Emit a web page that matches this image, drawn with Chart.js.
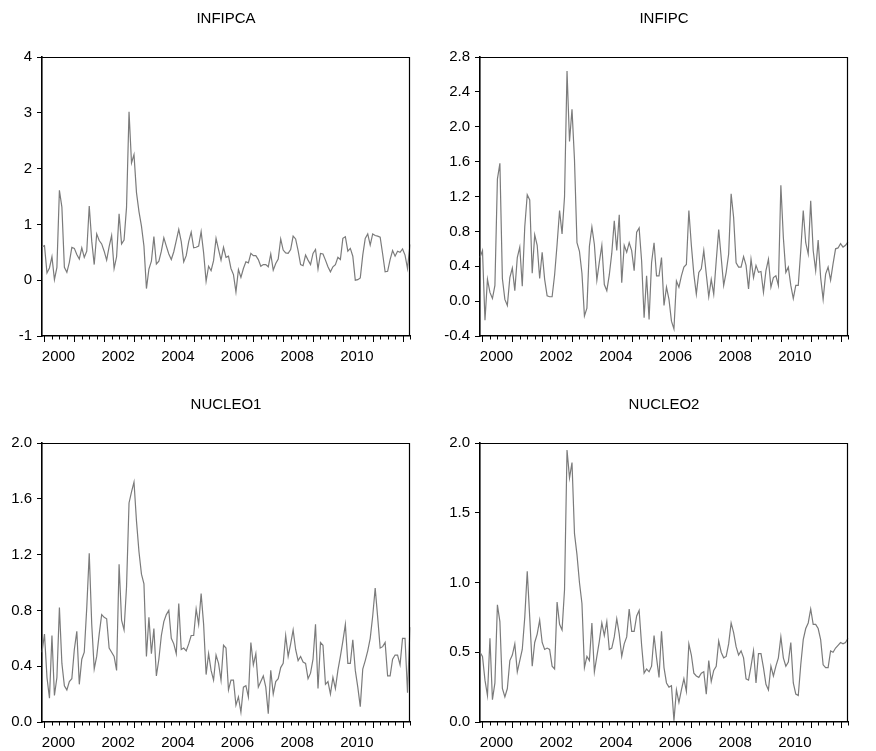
<!DOCTYPE html>
<html>
<head>
<meta charset="utf-8">
<script src="https://cdn.jsdelivr.net/npm/chart.js@4.4.1/dist/chart.umd.min.js"></script>
<style>
  html, body { margin: 0; padding: 0; background: #fff; }
  #wrap { position: relative; width: 876px; height: 751px; overflow: hidden; }
  #wrap canvas { position: absolute; }
</style>
</head>
<body>
<div id="wrap">
  <canvas id="c-infipca" width="438" height="386" style="left:0;top:0"></canvas>
  <canvas id="c-infipc" width="438" height="386" style="left:438px;top:0"></canvas>
  <canvas id="c-nucleo1" width="438" height="365" style="left:0;top:386px"></canvas>
  <canvas id="c-nucleo2" width="438" height="365" style="left:438px;top:386px"></canvas>
</div>
<script>
// monthly observations, 1999M12 .. 2012M04
const months = [];
for (let i = -1; i < 148; i++) {
    const yr = 2000 + Math.floor(i / 12);
    const mo = ((i % 12) + 12) % 12 + 1;
    months.push(yr + 'M' + String(mo).padStart(2, '0'));
}

// rows of 12, first row starts at 1999M12
const infipca = [
    0.60, 0.62, 0.13, 0.22, 0.42, 0.01, 0.23, 1.61, 1.31, 0.23, 0.14, 0.32,
    0.59, 0.57, 0.46, 0.38, 0.58, 0.41, 0.52, 1.33, 0.70, 0.28, 0.83, 0.71,
    0.65, 0.52, 0.36, 0.60, 0.80, 0.21, 0.42, 1.19, 0.65, 0.72, 1.31, 3.02,
    2.10, 2.25, 1.57, 1.23, 0.97, 0.61, -0.15, 0.20, 0.34, 0.78, 0.29, 0.34,
    0.52, 0.76, 0.61, 0.47, 0.37, 0.51, 0.71, 0.91, 0.69, 0.33, 0.44, 0.69,
    0.86, 0.58, 0.59, 0.61, 0.87, 0.49, -0.02, 0.25, 0.17, 0.35, 0.75, 0.55,
    0.36, 0.59, 0.41, 0.43, 0.21, 0.10, -0.21, 0.19, 0.05, 0.21, 0.33, 0.31,
    0.48, 0.44, 0.44, 0.37, 0.25, 0.28, 0.28, 0.24, 0.47, 0.18, 0.30, 0.38,
    0.74, 0.54, 0.49, 0.48, 0.55, 0.79, 0.74, 0.53, 0.28, 0.26, 0.45, 0.36,
    0.28, 0.48, 0.55, 0.20, 0.48, 0.47, 0.36, 0.24, 0.15, 0.24, 0.28, 0.41,
    0.37, 0.75, 0.78, 0.52, 0.57, 0.43, 0.00, 0.01, 0.04, 0.45, 0.75, 0.83,
    0.63, 0.83, 0.80, 0.79, 0.77, 0.47, 0.15, 0.16, 0.37, 0.53, 0.43, 0.52,
    0.50, 0.56, 0.45, 0.21, 0.64
];

const infipc = [
    0.50, 0.58, -0.22, 0.25, 0.10, 0.03, 0.18, 1.40, 1.58, 0.26, 0.02, -0.05,
    0.27, 0.38, 0.12, 0.50, 0.62, 0.17, 0.85, 1.22, 1.16, 0.32, 0.76, 0.64,
    0.26, 0.56, 0.25, 0.06, 0.05, 0.05, 0.30, 0.65, 1.04, 0.77, 1.20, 2.64,
    1.83, 2.20, 1.62, 0.67, 0.57, 0.32, -0.17, -0.08, 0.63, 0.85, 0.65, 0.24,
    0.45, 0.64, 0.19, 0.12, 0.30, 0.55, 0.92, 0.58, 0.99, 0.21, 0.64, 0.56,
    0.67, 0.58, 0.35, 0.79, 0.84, 0.46, -0.19, 0.29, -0.21, 0.44, 0.67, 0.29,
    0.29, 0.50, -0.05, 0.16, 0.02, -0.23, -0.32, 0.23, 0.16, 0.29, 0.39, 0.42,
    1.04, 0.64, 0.31, 0.08, 0.33, 0.37, 0.58, 0.31, 0.05, 0.25, 0.08, 0.46,
    0.82, 0.50, 0.18, 0.33, 0.54, 1.23, 0.96, 0.44, 0.39, 0.39, 0.51, 0.41,
    0.14, 0.48, 0.27, 0.41, 0.33, 0.34, 0.10, 0.35, 0.48, 0.16, 0.27, 0.29,
    0.18, 1.33, 0.73, 0.33, 0.39, 0.18, 0.03, 0.18, 0.18, 0.58, 1.04, 0.67,
    0.54, 1.15, 0.58, 0.35, 0.70, 0.27, 0.02, 0.31, 0.39, 0.24, 0.43, 0.60,
    0.61, 0.66, 0.62, 0.64, 0.68
];

const nucleo1 = [
    0.50, 0.63, 0.32, 0.17, 0.62, 0.19, 0.32, 0.82, 0.42, 0.26, 0.23, 0.29,
    0.31, 0.52, 0.65, 0.27, 0.45, 0.50, 0.82, 1.21, 0.70, 0.38, 0.47, 0.63,
    0.77, 0.75, 0.74, 0.53, 0.50, 0.47, 0.37, 1.13, 0.73, 0.66, 0.97, 1.57,
    1.65, 1.72, 1.44, 1.22, 1.06, 0.99, 0.47, 0.75, 0.49, 0.67, 0.33, 0.45,
    0.62, 0.72, 0.77, 0.80, 0.60, 0.56, 0.49, 0.85, 0.52, 0.53, 0.51, 0.56,
    0.62, 0.62, 0.81, 0.70, 0.92, 0.70, 0.34, 0.49, 0.37, 0.30, 0.48, 0.42,
    0.30, 0.55, 0.53, 0.23, 0.30, 0.30, 0.12, 0.18, 0.07, 0.25, 0.26, 0.18,
    0.57, 0.41, 0.49, 0.25, 0.29, 0.33, 0.25, 0.06, 0.37, 0.20, 0.29, 0.31,
    0.39, 0.42, 0.62, 0.47, 0.56, 0.66, 0.52, 0.44, 0.47, 0.43, 0.42, 0.31,
    0.35, 0.45, 0.70, 0.24, 0.57, 0.55, 0.27, 0.29, 0.20, 0.32, 0.24, 0.37,
    0.47, 0.58, 0.70, 0.42, 0.42, 0.59, 0.37, 0.25, 0.11, 0.38, 0.44, 0.51,
    0.60, 0.76, 0.96, 0.75, 0.53, 0.54, 0.57, 0.33, 0.33, 0.45, 0.48, 0.48,
    0.41, 0.60, 0.60, 0.21, 0.68
];

const nucleo2 = [
    0.50, 0.47, 0.30, 0.19, 0.60, 0.16, 0.28, 0.84, 0.72, 0.24, 0.18, 0.24,
    0.44, 0.48, 0.56, 0.36, 0.44, 0.52, 0.75, 1.08, 0.75, 0.40, 0.57, 0.63,
    0.73, 0.57, 0.52, 0.53, 0.52, 0.40, 0.38, 0.86, 0.70, 0.66, 0.95, 1.95,
    1.75, 1.86, 1.35, 1.20, 1.00, 0.85, 0.39, 0.47, 0.44, 0.71, 0.36, 0.47,
    0.58, 0.71, 0.62, 0.72, 0.52, 0.53, 0.61, 0.74, 0.63, 0.47, 0.56, 0.61,
    0.81, 0.65, 0.65, 0.76, 0.80, 0.55, 0.35, 0.38, 0.36, 0.40, 0.62, 0.46,
    0.32, 0.65, 0.39, 0.28, 0.25, 0.26, 0.01, 0.23, 0.14, 0.23, 0.31, 0.22,
    0.56, 0.48, 0.35, 0.33, 0.32, 0.35, 0.36, 0.20, 0.44, 0.29, 0.37, 0.40,
    0.58, 0.50, 0.46, 0.47, 0.56, 0.71, 0.64, 0.54, 0.48, 0.51, 0.46, 0.31,
    0.30, 0.40, 0.51, 0.28, 0.49, 0.49, 0.39, 0.27, 0.23, 0.40, 0.33, 0.40,
    0.46, 0.61, 0.46, 0.40, 0.43, 0.57, 0.28, 0.20, 0.19, 0.41, 0.59, 0.67,
    0.71, 0.81, 0.70, 0.70, 0.67, 0.59, 0.41, 0.39, 0.39, 0.51, 0.50, 0.53,
    0.55, 0.57, 0.56, 0.57, 0.60
];

// labelled years on the time axis
const yearLabels = ['2000', '2002', '2004', '2006', '2008', '2010'];

Chart.defaults.font.family = '"Liberation Sans", Arial, Helvetica, sans-serif';
Chart.defaults.color = '#000';

// top/right frame lines plus quarter / year tick marks under the time axis
const frameTicks = {
    id: 'frameTicks',
    afterDraw(chart) {
        const {ctx, chartArea: a} = chart;
        const x = chart.scales.x;
        ctx.save();
        ctx.strokeStyle = '#000';
        ctx.lineWidth = 1.2;
        ctx.beginPath();
        ctx.moveTo(a.left, a.top + 0.5);
        ctx.lineTo(a.right - 0.5, a.top + 0.5);
        ctx.lineTo(a.right - 0.5, a.bottom);
        ctx.stroke();
        ctx.lineWidth = 1;
        ctx.beginPath();
        months.forEach((m, i) => {
            const mo = +m.slice(5);
            if ((mo - 1) % 3 !== 0) return;
            const px = Math.round(x.getPixelForValue(i)) + 0.5;
            ctx.moveTo(px, a.bottom);
            ctx.lineTo(px, a.bottom + (mo === 1 ? 6 : 3.5));
        });
        ctx.stroke();
        ctx.restore();
    }
};

function makeChart(id, title, values, yMin, yMax, yStep, digits, axisW, xAxisH, padRight) {
    return new Chart(document.getElementById(id), {
        type: 'line',
        data: {
            labels: months,
            datasets: [{
                data: values,
                borderColor: '#7b7b7b',
                borderWidth: 1.2,
                pointRadius: 0,
                tension: 0,
                fill: false
            }]
        },
        options: {
            responsive: false,
            animation: false,
            events: [],
            layout: {padding: {left: 0, right: padRight, top: 10, bottom: 0}},
            plugins: {
                legend: {display: false},
                tooltip: {enabled: false},
                title: {
                    display: true,
                    text: title,
                    fullSize: false,
                    color: '#000',
                    font: {size: 15, weight: 'normal'},
                    padding: {top: 0, bottom: 29}
                }
            },
            scales: {
                x: {
                    type: 'category',
                    offset: false,
                    grid: {display: false, drawTicks: false},
                    border: {color: '#000', width: 1.6},
                    ticks: {
                        autoSkip: false,
                        maxRotation: 0,
                        minRotation: 0,
                        labelOffset: 14,
                        padding: 12,
                        font: {size: 15},
                        callback: function (value) {
                            return this.getLabelForValue(value).slice(0, 4);
                        }
                    },
                    afterBuildTicks: (scale) => {
                        scale.ticks = months
                            .map((m, i) => ({m, i}))
                            .filter(o => o.m.slice(5) === '01' && yearLabels.includes(o.m.slice(0, 4)))
                            .map(o => ({value: o.i}));
                    },
                    afterFit: (scale) => { scale.height = xAxisH; }
                },
                y: {
                    min: yMin,
                    max: yMax,
                    grid: {drawOnChartArea: false, drawTicks: true, tickLength: 5, color: '#000'},
                    border: {color: '#000', width: 1.6},
                    ticks: {
                        stepSize: yStep,
                        padding: 5,
                        font: {size: 15},
                        callback: (v) => {
                            const r = Math.round(v * 10) / 10;
                            return (r === 0 ? 0 : r).toFixed(digits);
                        }
                    },
                    afterFit: (scale) => { scale.width = axisW; }
                }
            }
        },
        plugins: [frameTicks]
    });
}

const infipcaChart = makeChart('c-infipca', 'INFIPCA', infipca, -1, 4, 1, 0, 42, 50, 28);
const infipcChart = makeChart('c-infipc', 'INFIPC', infipc, -0.4, 2.8, 0.4, 1, 42, 50, 28);
const nucleo1Chart = makeChart('c-nucleo1', 'NUCLEO1', nucleo1, 0, 2, 0.4, 1, 42, 29, 28);
const nucleo2Chart = makeChart('c-nucleo2', 'NUCLEO2', nucleo2, 0, 2, 0.5, 1, 42, 29, 28);
</script>
</body>
</html>
